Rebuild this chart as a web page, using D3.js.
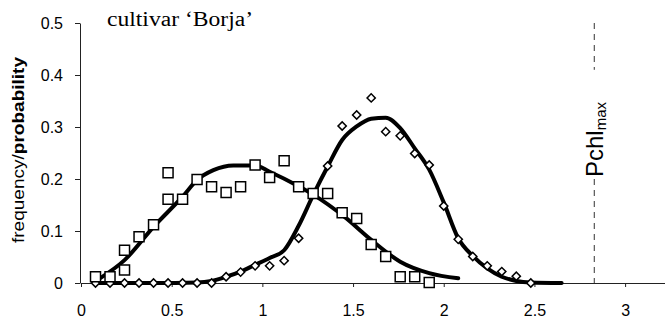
<!DOCTYPE html>
<html>
<head>
<meta charset="utf-8">
<script src="https://cdn.jsdelivr.net/npm/d3@7/dist/d3.min.js"></script>
<style>
  html, body { margin: 0; padding: 0; background: #fff; }
  svg { display: block; }
  .tick text { font-family: "Liberation Sans", Arial, sans-serif; font-size: 16px; fill: #000; }
</style>
</head>
<body>
<svg id="chart" width="665" height="323"></svg>
<script>
// ── Data ────────────────────────────────────────────────────────────────────

const xTicks = [0, 0.5, 1, 1.5, 2, 2.5, 3];
const xTickLabels = ["0", "0.5", "1", "1.5", "2", "2.5", "3"];
const yTicks = [0, 0.1, 0.2, 0.3, 0.4, 0.5];
const yTickLabels = ["0", "0.1", "0.2", "0.3", "0.4", "0.5"];

// open squares – frequencies
const squareX = [0.08, 0.16, 0.24, 0.24, 0.32, 0.40, 0.48, 0.48, 0.56, 0.64, 0.72, 0.80, 0.88,
                 0.96, 1.04, 1.12, 1.20, 1.28, 1.36, 1.44, 1.52, 1.60, 1.68, 1.76, 1.84, 1.92];
const squareY = [0.012, 0.012, 0.063, 0.025, 0.089, 0.112, 0.212, 0.161, 0.161, 0.199, 0.185, 0.174, 0.185,
                 0.227, 0.203, 0.235, 0.185, 0.172, 0.172, 0.135, 0.124, 0.074, 0.051, 0.012, 0.012, 0.001];

// open diamonds – frequencies
const diamondX = [0.08, 0.16, 0.24, 0.32, 0.40, 0.48, 0.56, 0.64, 0.72, 0.80, 0.88, 0.96, 1.04,
                  1.12, 1.20, 1.28, 1.36, 1.44, 1.52, 1.60, 1.68, 1.76, 1.84, 1.92, 2.00, 2.08,
                  2.16, 2.24, 2.32, 2.40, 2.48];
const diamondY = [0, 0, 0, 0, 0, 0, 0, 0, 0, 0.012, 0.021, 0.033, 0.033,
                  0.043, 0.086, 0.172, 0.225, 0.302, 0.323, 0.356, 0.291, 0.283, 0.249, 0.227, 0.148, 0.084,
                  0.051, 0.033, 0.022, 0.013, 0];

// fitted probability curves
const squareFitX = [0.10, 0.24, 0.40, 0.56, 0.64, 0.73, 0.84, 0.96, 1.04, 1.20, 1.28, 1.45, 1.60, 1.76, 1.92, 2.08];
const squareFitY = [0.008, 0.044, 0.108, 0.166, 0.198, 0.217, 0.226, 0.226, 0.214, 0.186, 0.170, 0.128, 0.083, 0.041, 0.019, 0.009];

const diamondFitX = [0.08, 0.40, 0.64, 0.72, 0.80, 0.88, 0.96, 1.04, 1.12, 1.20, 1.28, 1.36, 1.44, 1.52,
                     1.60, 1.68, 1.76, 1.84, 1.92, 2.00, 2.08, 2.16, 2.24, 2.32, 2.40, 2.48, 2.65];
const diamondFitY = [0, 0, 0.001, 0.004, 0.012, 0.022, 0.035, 0.048, 0.063, 0.110, 0.169, 0.224, 0.275, 0.301,
                     0.316, 0.318, 0.298, 0.259, 0.218, 0.155, 0.086, 0.052, 0.028, 0.012, 0.004, 0.001, 0];

const pchlMax = 2.83;

// ── Chart ───────────────────────────────────────────────────────────────────

const svg = d3.select("#chart");

const x = d3.scaleLinear().domain([0, 3.22]).range([81, 665]);
const y = d3.scaleLinear().domain([0, 0.5]).range([283, 23]);

// axes
const xAxis = d3.axisBottom(x)
  .tickValues(xTicks)
  .tickFormat((d, i) => xTickLabels[i])
  .tickSize(4)
  .tickSizeOuter(0)
  .tickPadding(18);

const yAxis = d3.axisLeft(y)
  .tickValues(yTicks)
  .tickFormat((d, i) => yTickLabels[i])
  .tickSize(5)
  .tickSizeOuter(0)
  .tickPadding(12);

const gx = svg.append("g").attr("transform", `translate(0,${y(0)})`).call(xAxis);
gx.select(".domain").attr("stroke", "#222").attr("stroke-width", 1);
gx.selectAll(".tick line").attr("stroke", "#222");

const gy = svg.append("g").attr("transform", "translate(80,0)").call(yAxis);
gy.select(".domain").attr("stroke", "#222").attr("stroke-width", 1);
gy.selectAll(".tick line").attr("stroke", "#222");

// Pchl max dashed marker, broken where its label sits
const dashSegments = [[0.5, 0.41], [0.2, 0]];
svg.selectAll(".pchl")
  .data(dashSegments)
  .join("line")
  .attr("class", "pchl")
  .attr("x1", x(pchlMax)).attr("x2", x(pchlMax))
  .attr("y1", (d) => y(d[0])).attr("y2", (d) => y(d[1]))
  .attr("stroke", "#333")
  .attr("stroke-width", 1)
  .attr("stroke-dasharray", "6,5");

const pchl = svg.append("text")
  .attr("transform", `translate(${x(pchlMax) + 9},177) rotate(-90)`)
  .attr("font-family", "Liberation Sans, Arial, sans-serif")
  .attr("font-size", 24)
  .attr("fill", "#000");
pchl.append("tspan").text("Pchl");
pchl.append("tspan").attr("font-size", 15).attr("dy", 3).text("max");

// fitted curves
const line = d3.line()
  .x((d) => x(d[0]))
  .y((d) => y(d[1]))
  .curve(d3.curveMonotoneX);

const fits = [
  d3.zip(squareFitX, squareFitY),
  d3.zip(diamondFitX, diamondFitY)
];

svg.selectAll(".fit")
  .data(fits)
  .join("path")
  .attr("class", "fit")
  .attr("d", line)
  .attr("fill", "none")
  .attr("stroke", "#000")
  .attr("stroke-width", 4)
  .attr("stroke-linecap", "round");

// markers
const squareSym = d3.symbol().type(d3.symbolSquare).size(100);
const diamondSym = d3.symbol().type(d3.symbolSquare).size(34);

svg.selectAll(".diamond")
  .data(d3.zip(diamondX, diamondY))
  .join("path")
  .attr("class", "diamond")
  .attr("d", diamondSym)
  .attr("transform", (d) => `translate(${x(d[0])},${y(d[1])}) rotate(45)`)
  .attr("fill", "#fff")
  .attr("stroke", "#000")
  .attr("stroke-width", 1.5);

svg.selectAll(".square")
  .data(d3.zip(squareX, squareY))
  .join("path")
  .attr("class", "square")
  .attr("d", squareSym)
  .attr("transform", (d) => `translate(${x(d[0])},${y(d[1])})`)
  .attr("fill", "#fff")
  .attr("stroke", "#000")
  .attr("stroke-width", 1.5);

// labels
svg.append("text")
  .attr("x", 107).attr("y", 26)
  .attr("font-family", "Liberation Serif, Times New Roman, serif")
  .attr("font-size", 20)
  .attr("textLength", 146)
  .attr("lengthAdjust", "spacingAndGlyphs")
  .attr("fill", "#000")
  .text("cultivar \u2018Borja\u2019");

const yTitle = svg.append("text")
  .attr("transform", "translate(24,150) rotate(-90)")
  .attr("text-anchor", "middle")
  .attr("font-family", "Liberation Sans, Arial, sans-serif")
  .attr("font-size", 16)
  .attr("textLength", 186)
  .attr("lengthAdjust", "spacingAndGlyphs")
  .attr("fill", "#000");
yTitle.append("tspan").text("frequency/");
yTitle.append("tspan").attr("font-weight", "bold").text("probability");
</script>
</body>
</html>
